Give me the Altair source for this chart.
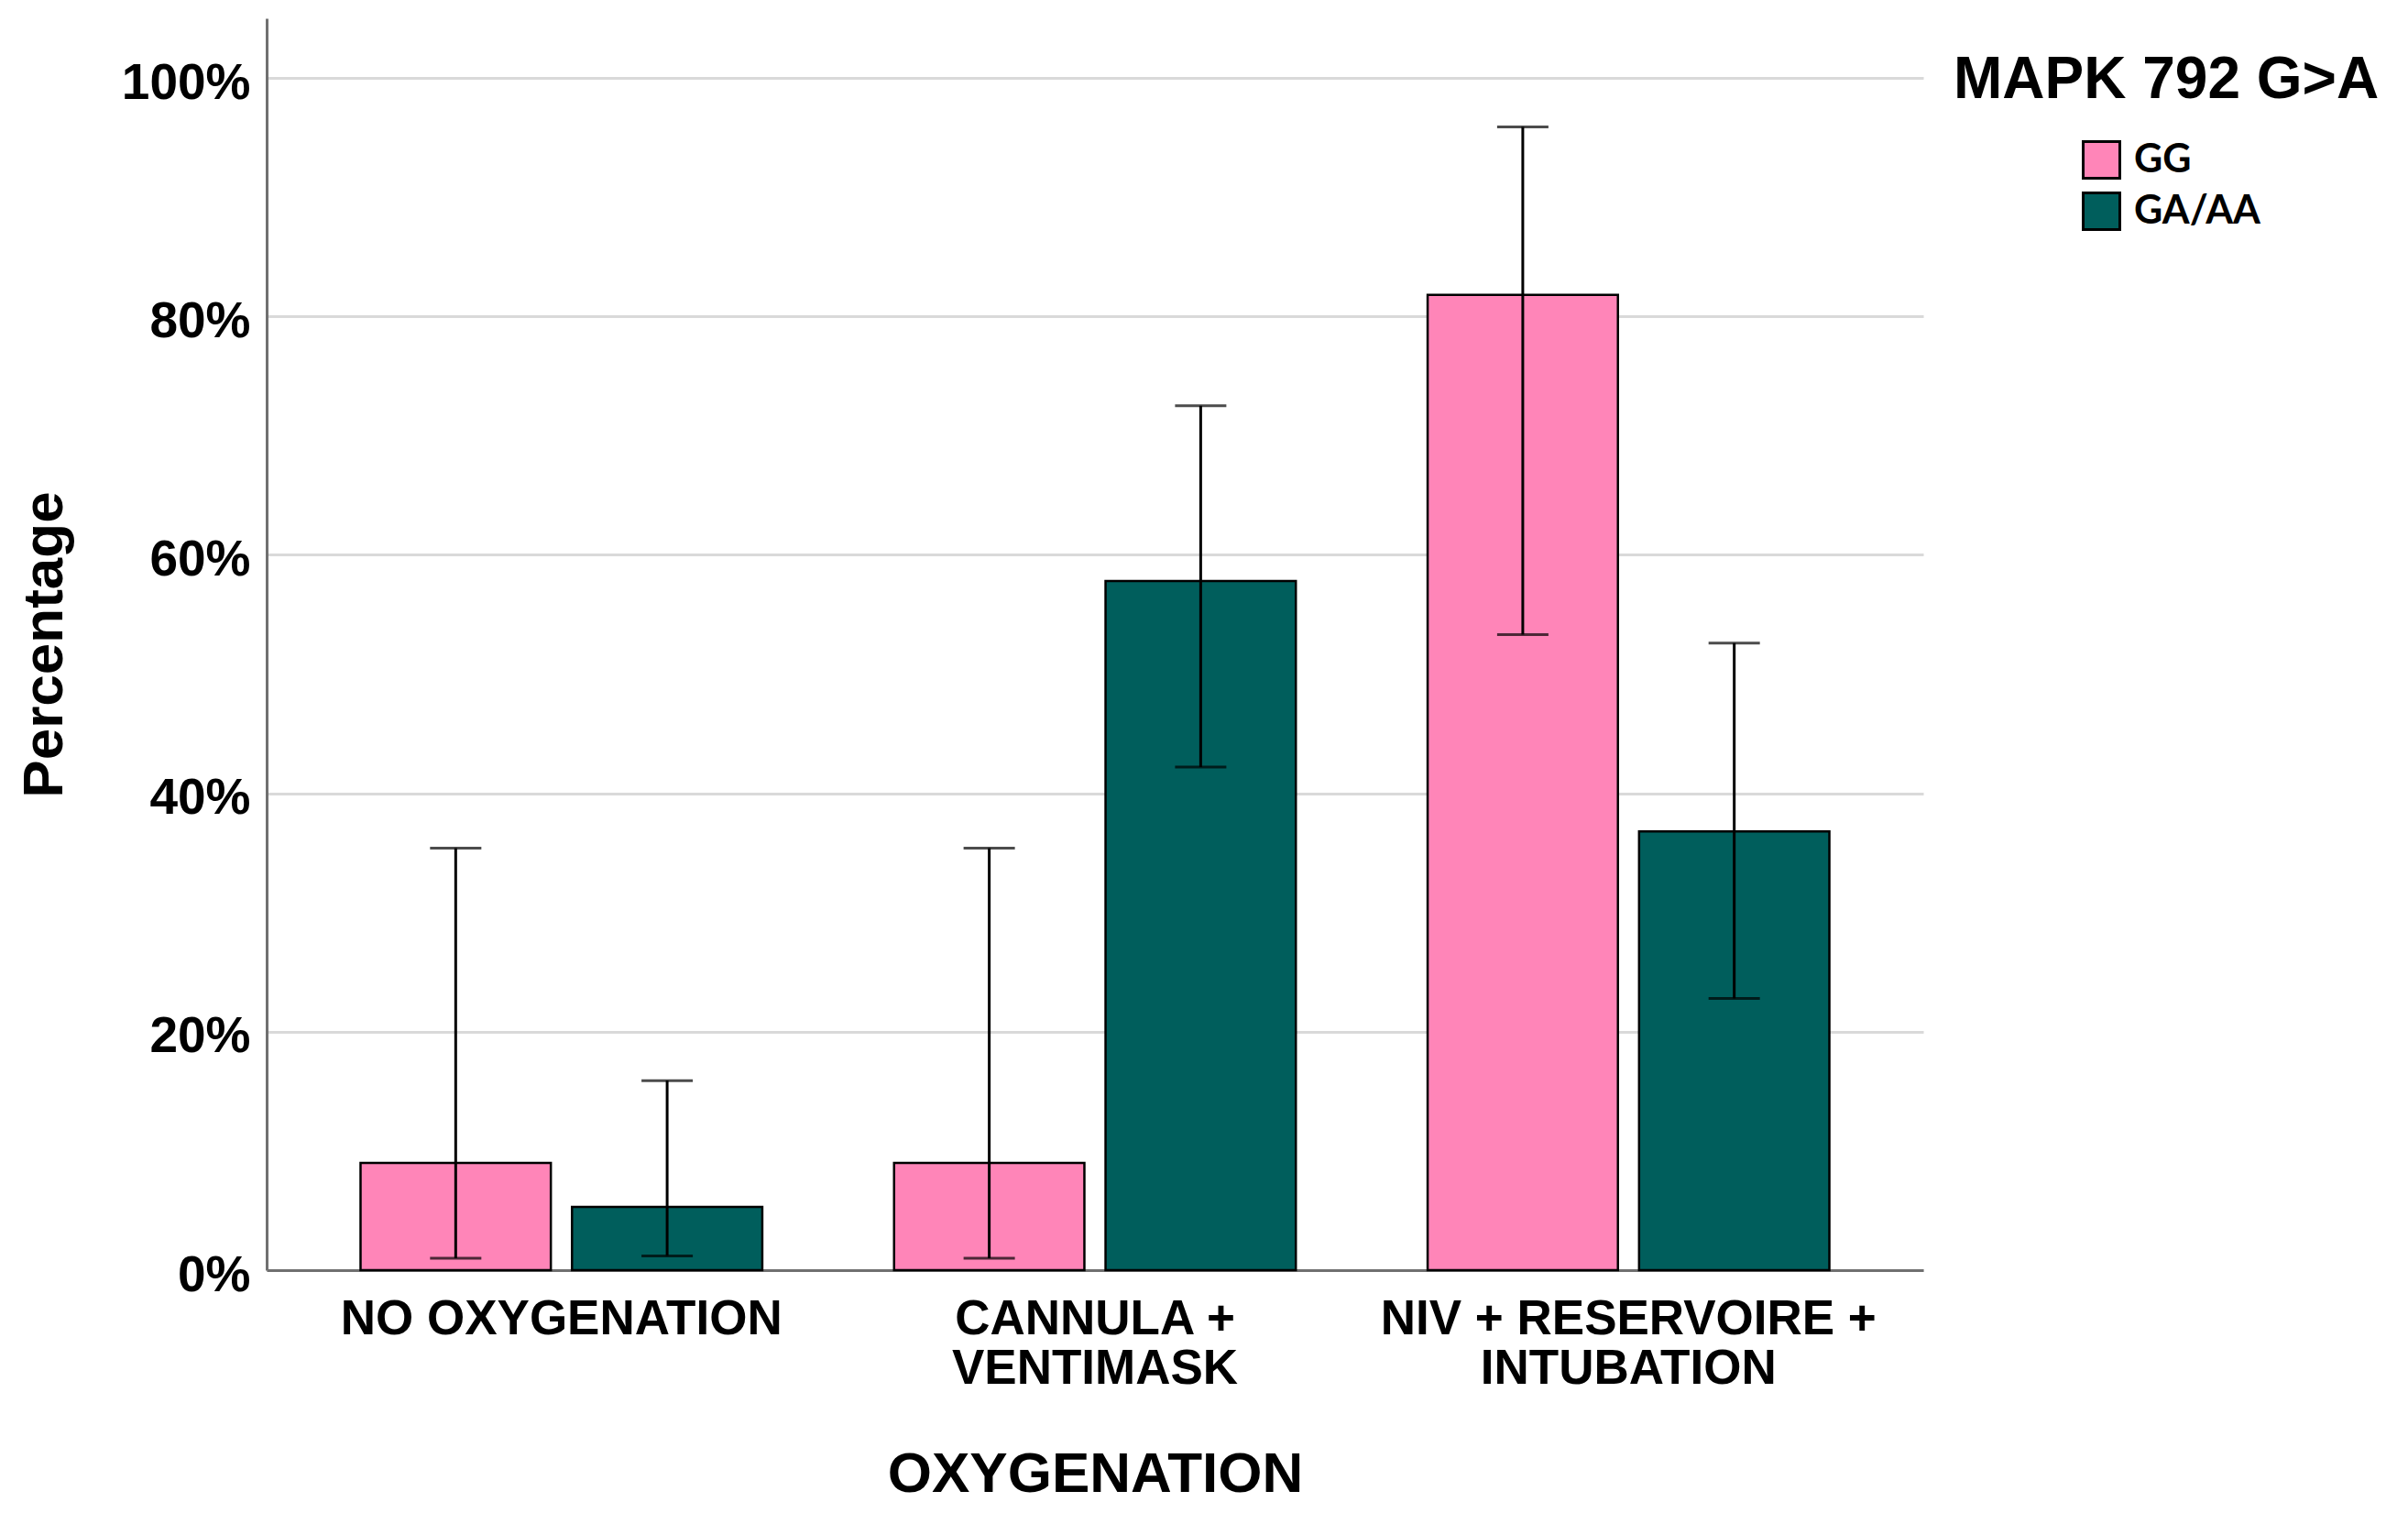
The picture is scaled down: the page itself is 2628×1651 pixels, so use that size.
import altair as alt
import pandas as pd

categories = ["NO OXYGENATION", "CANNULA + VENTIMASK", "NIV + RESERVOIRE + INTUBATION"]
cat_lines = [["NO OXYGENATION"], ["CANNULA +", "VENTIMASK"], ["NIV + RESERVOIRE +", "INTUBATION"]]
genotypes = ["GG", "GA/AA"]

pct_gg = [9.0, 9.0, 81.8]
pct_ga = [5.3, 57.8, 36.8]
lo_gg = [1.0, 1.0, 53.3]
hi_gg = [35.4, 35.4, 95.9]
lo_ga = [1.2, 42.2, 22.8]
hi_ga = [15.9, 72.5, 52.6]

rows = []
for i, c in enumerate(categories):
    rows.append({"cat": c, "geno": "GG", "pct": pct_gg[i] / 100, "lo": lo_gg[i] / 100, "hi": hi_gg[i] / 100})
    rows.append({"cat": c, "geno": "GA/AA", "pct": pct_ga[i] / 100, "lo": lo_ga[i] / 100, "hi": hi_ga[i] / 100})
df = pd.DataFrame(rows)

FONT = "Liberation Sans"
PINK = "#FF85B8"
TEAL = "#005E5C"

label_expr = " : ".join(
    [f"datum.label == '{c}' ? {l!r}" for c, l in zip(categories, cat_lines)]
) + " : datum.label"

x_enc = alt.X(
    "cat:N",
    sort=categories,
    scale=alt.Scale(paddingInner=0.247, paddingOuter=0.176),
    axis=alt.Axis(
        title="OXYGENATION",
        labelAngle=0,
        labelExpr=label_expr,
        labelLimit=0,
        labelFont=FONT,
        labelFontSize=53,
        labelFontWeight="bold",
        labelColor="black",
        labelLineHeight=54,
        labelPadding=27,
        ticks=False,
        domainColor="#707070",
        domainWidth=3,
        titleFont=FONT,
        titleFontSize=62,
        titleFontWeight="bold",
        titleColor="black",
        titlePadding=58,
    ),
)
xo_enc = alt.XOffset("geno:N", sort=genotypes, scale=alt.Scale(paddingInner=0.1, paddingOuter=0))

y_scale = alt.Scale(domain=[0, 1.05], nice=False)

base = alt.Chart(df)

bars = base.mark_bar(stroke="black", strokeWidth=2.5).encode(
    x=x_enc,
    xOffset=xo_enc,
    y=alt.Y(
        "pct:Q",
        scale=y_scale,
        axis=alt.Axis(
            title="Percentage",
            format=".0%",
            values=[0, 0.2, 0.4, 0.6, 0.8, 1.0],
            grid=True,
            gridColor="#D9D9D9",
            gridWidth=3,
            domainColor="#707070",
            domainWidth=3,
            ticks=False,
            labelFont=FONT,
            labelFontSize=55,
            labelFontWeight="bold",
            labelColor="black",
            labelPadding=18,
            labelOffset=5,
            titleFont=FONT,
            titleFontSize=62,
            titleFontWeight="bold",
            titleColor="black",
            titlePadding=52,
        ),
    ),
    color=alt.Color(
        "geno:N",
        sort=genotypes,
        scale=alt.Scale(domain=genotypes, range=[PINK, TEAL]),
        legend=alt.Legend(
            title=None,
            orient="none",
            legendX=1981,
            legendY=133,
            symbolType="square",
            symbolSize=1600,
            symbolStrokeColor="black",
            symbolStrokeWidth=3,
            symbolOpacity=1,
            labelFont="Lato",
            labelFontSize=43,
            labelFontWeight="bold",
            labelColor="black",
            labelOffset=14,
            rowPadding=3,
            padding=0,
        ),
    ),
)

rules = base.mark_rule(color="#000000", strokeWidth=3).encode(
    x=x_enc, xOffset=xo_enc, y=alt.Y("lo:Q", scale=y_scale), y2="hi:Q"
)
cap_lo = base.mark_tick(color="#000000", thickness=3, size=56, orient="horizontal").encode(
    x=x_enc, xOffset=xo_enc, y=alt.Y("lo:Q", scale=y_scale)
)
cap_hi = base.mark_tick(color="#000000", thickness=3, size=56, orient="horizontal").encode(
    x=x_enc, xOffset=xo_enc, y=alt.Y("hi:Q", scale=y_scale)
)

legend_title = alt.Chart(pd.DataFrame({"t": ["MAPK 792 G>A"]})).mark_text(
    align="left", baseline="middle", font=FONT, fontSize=64, fontWeight="bold", color="black"
).encode(text="t:N", x=alt.value(1841), y=alt.value(68))

chart = (
    alt.layer(bars, rules, cap_lo, cap_hi, legend_title)
    .properties(
        width=1808,
        height=1366,
        padding={"left": 283, "top": 12, "right": 521, "bottom": 257},
        autosize=alt.AutoSizeParams(type="none"),
        background="white",
    )
    .configure_view(stroke=None)
)

chart.save("out.html", embed_options={"renderer": "svg", "actions": False})
